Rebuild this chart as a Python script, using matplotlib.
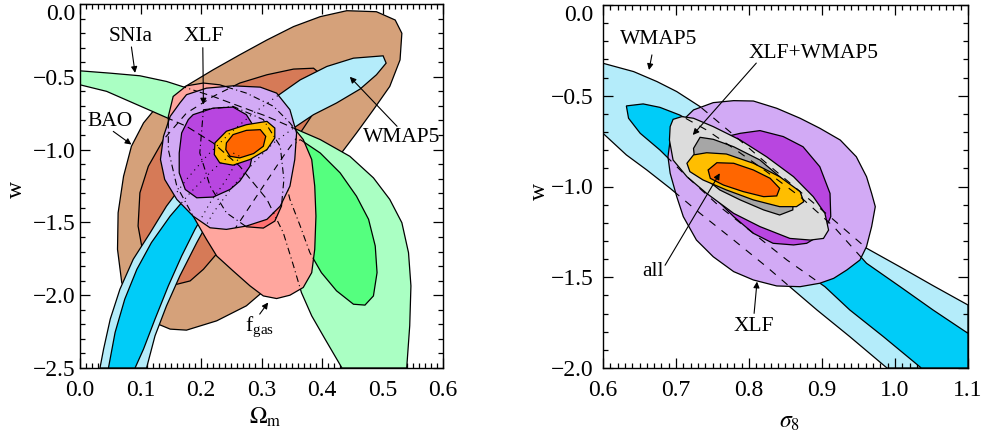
import numpy as np
import matplotlib
matplotlib.use("Agg")
import matplotlib.pyplot as plt
from matplotlib.patches import Polygon
from matplotlib.ticker import MultipleLocator, FuncFormatter

plt.rcParams['font.family'] = ['Liberation Serif', 'DejaVu Serif']
plt.rcParams['mathtext.fontset'] = 'stix'

# ---------------- Left panel (Omega_m, w) contour outlines ----------------
bao_out_om = [0.176,0.220,0.264,0.309,0.353,0.397,0.441,0.490,0.521,0.532,0.529,0.512,0.485,0.457,0.424,0.397,0.375,0.353,0.320,0.275,0.226,0.176,0.149,0.116,0.088,0.069,0.062,0.063,0.072,0.085,0.105,0.132]
bao_out_w = [-0.562,-0.452,-0.349,-0.247,-0.155,-0.087,-0.046,-0.053,-0.110,-0.201,-0.384,-0.566,-0.726,-0.886,-1.068,-1.251,-1.457,-1.685,-1.913,-2.073,-2.176,-2.240,-2.233,-2.176,-2.073,-1.913,-1.685,-1.434,-1.183,-0.977,-0.817,-0.680]

bao_in_om = [0.160,0.127,0.105,0.096,0.099,0.113,0.138,0.176,0.220,0.264,0.309,0.353,0.386,0.399,0.397,0.386,0.364,0.336,0.303,0.270,0.237,0.204,0.182]
bao_in_w = [-1.925,-1.868,-1.731,-1.525,-1.297,-1.114,-0.931,-0.749,-0.635,-0.543,-0.486,-0.447,-0.441,-0.486,-0.612,-0.749,-0.886,-1.046,-1.251,-1.457,-1.662,-1.822,-1.902]

wmap_out_om = [0.033,0.039,0.050,0.066,0.088,0.116,0.143,0.176,0.209,0.248,0.287,0.325,0.364,0.408,0.452,0.501,0.506,0.490,0.463,0.424,0.386,0.353,0.320,0.287,0.253,0.220,0.193,0.165,0.143,0.124,0.110]
wmap_out_w = [-2.5,-2.370,-2.164,-1.959,-1.753,-1.571,-1.388,-1.205,-1.046,-0.886,-0.749,-0.635,-0.521,-0.429,-0.372,-0.356,-0.406,-0.486,-0.584,-0.680,-0.760,-0.852,-0.954,-1.091,-1.251,-1.434,-1.639,-1.868,-2.073,-2.279,-2.5]

wmap_in_om = [0.047,0.058,0.074,0.094,0.118,0.149,0.182,0.220,0.253,0.264,0.242,0.215,0.190,0.168,0.146,0.124,0.105,0.091]
wmap_in_w = [-2.5,-2.256,-2.027,-1.822,-1.639,-1.457,-1.297,-1.137,-1.023,-1.046,-1.205,-1.365,-1.548,-1.731,-1.936,-2.164,-2.370,-2.5]

sn_out_om = [0.0,0.050,0.099,0.143,0.182,0.220,0.264,0.309,0.353,0.397,0.446,0.485,0.512,0.532,0.543,0.547,0.545,0.540,0.433,0.405,0.383,0.366,0.353,0.336,0.309,0.264,0.220,0.176,0.132,0.088,0.044,0.0]
sn_out_w = [-0.459,-0.475,-0.493,-0.532,-0.584,-0.635,-0.703,-0.772,-0.852,-0.931,-1.046,-1.194,-1.342,-1.502,-1.708,-1.936,-2.210,-2.5,-2.5,-2.301,-2.142,-1.982,-1.799,-1.571,-1.342,-1.114,-0.954,-0.840,-0.760,-0.680,-0.600,-0.555]

sn_in_om = [0.364,0.397,0.430,0.457,0.477,0.488,0.491,0.485,0.471,0.452,0.424,0.399,0.380,0.364,0.347,0.336,0.342]
sn_in_w = [-0.931,-1.023,-1.160,-1.320,-1.479,-1.662,-1.845,-2.005,-2.068,-2.062,-1.970,-1.845,-1.708,-1.525,-1.342,-1.160,-1.000]

fgas_out_om = [0.154,0.176,0.204,0.231,0.275,0.320,0.347,0.369,0.383,0.388,0.390,0.388,0.383,0.369,0.347,0.325,0.303,0.281,0.253,0.226,0.209,0.187,0.160,0.146,0.146]
fgas_out_w = [-0.635,-0.562,-0.543,-0.555,-0.612,-0.703,-0.817,-0.931,-1.068,-1.251,-1.457,-1.685,-1.845,-1.947,-2.000,-2.023,-2.005,-1.936,-1.833,-1.731,-1.616,-1.457,-1.251,-1.000,-0.772]

fgas_in_om = [0.204,0.253,0.303,0.331,0.337,0.333,0.322,0.303,0.275,0.242,0.215,0.198]
fgas_in_w = [-0.726,-0.703,-0.794,-0.977,-1.205,-1.388,-1.491,-1.539,-1.530,-1.434,-1.251,-1.023]

xlf_out_om = [0.176,0.209,0.253,0.298,0.325,0.347,0.358,0.355,0.347,0.331,0.309,0.275,0.242,0.215,0.187,0.160,0.140,0.133,0.138,0.149,0.165]
xlf_out_w = [-0.623,-0.578,-0.562,-0.571,-0.612,-0.726,-0.886,-1.068,-1.251,-1.388,-1.479,-1.525,-1.548,-1.537,-1.457,-1.342,-1.205,-1.068,-0.909,-0.772,-0.680]

xlf_in_om = [0.187,0.220,0.253,0.275,0.287,0.287,0.281,0.264,0.248,0.220,0.193,0.174,0.164,0.164,0.168,0.179]
xlf_in_w = [-0.760,-0.715,-0.708,-0.760,-0.840,-1.000,-1.114,-1.217,-1.274,-1.326,-1.331,-1.274,-1.160,-1.023,-0.886,-0.794]

all2_om = [0.223,0.242,0.275,0.309,0.322,0.322,0.309,0.281,0.253,0.231,0.222]
all2_w = [-0.954,-0.874,-0.829,-0.806,-0.852,-0.920,-1.000,-1.068,-1.107,-1.091,-1.034]

all1_om = [0.242,0.253,0.275,0.298,0.307,0.303,0.287,0.264,0.248,0.241]
all1_w = [-0.954,-0.897,-0.868,-0.863,-0.909,-0.977,-1.027,-1.057,-1.046,-1.000]

# ---------------- Right panel (sigma_8, w) contour outlines ----------------
wm_out_s8 = [0.600,0.642,0.674,0.701,0.733,0.779,0.824,0.870,0.916,0.961,1.007,1.052,1.100,1.100,0.989,0.938,0.893,0.861,0.824,0.779,0.733,0.692,0.660,0.632,0.600]
wm_out_w = [-0.321,-0.367,-0.422,-0.477,-0.560,-0.716,-0.872,-1.028,-1.184,-1.340,-1.443,-1.546,-1.653,-2.0,-2.0,-1.827,-1.680,-1.570,-1.442,-1.295,-1.148,-1.010,-0.909,-0.826,-0.707]

wm_in_s8 = [0.632,0.655,0.678,0.705,0.742,0.779,0.824,0.870,0.916,0.961,1.007,1.052,1.100,1.100,1.036,0.984,0.938,0.904,0.852,0.806,0.760,0.715,0.678,0.651,0.635]
wm_in_w = [-0.556,-0.545,-0.564,-0.606,-0.689,-0.790,-0.918,-1.056,-1.221,-1.423,-1.552,-1.680,-1.809,-2.0,-2.0,-1.827,-1.680,-1.552,-1.405,-1.258,-1.111,-0.946,-0.799,-0.707,-0.624]

xl_out_s8 = [0.724,0.751,0.779,0.806,0.838,0.870,0.897,0.925,0.947,0.961,0.968,0.973,0.968,0.961,0.952,0.934,0.916,0.897,0.870,0.838,0.806,0.779,0.751,0.728,0.710,0.701,0.692,0.689,0.692,0.705]
xl_out_w = [-0.578,-0.538,-0.527,-0.529,-0.569,-0.624,-0.679,-0.744,-0.836,-0.946,-1.038,-1.111,-1.221,-1.331,-1.405,-1.460,-1.506,-1.533,-1.552,-1.548,-1.515,-1.469,-1.387,-1.295,-1.166,-1.056,-0.927,-0.836,-0.744,-0.652]

xl_in_s8 = [0.769,0.788,0.815,0.847,0.874,0.897,0.911,0.912,0.902,0.879,0.861,0.833,0.806,0.779,0.756,0.742,0.751]
xl_in_w = [-0.725,-0.707,-0.692,-0.725,-0.781,-0.891,-1.038,-1.166,-1.258,-1.313,-1.322,-1.313,-1.258,-1.166,-1.074,-0.982,-0.836]

xw_out_s8 = [0.692,0.696,0.708,0.724,0.751,0.788,0.824,0.861,0.888,0.904,0.909,0.902,0.884,0.856,0.815,0.779,0.742,0.715,0.696,0.691]
xw_out_w = [-0.670,-0.630,-0.615,-0.624,-0.670,-0.744,-0.836,-0.946,-1.056,-1.148,-1.240,-1.286,-1.295,-1.286,-1.221,-1.148,-1.038,-0.946,-0.854,-0.744]

xw_in_s8 = [0.724,0.733,0.751,0.779,0.815,0.842,0.861,0.860,0.842,0.820,0.788,0.760,0.737,0.726]
xw_in_w = [-0.790,-0.729,-0.740,-0.781,-0.854,-0.946,-1.038,-1.129,-1.157,-1.129,-1.074,-1.019,-0.946,-0.872]

al2_s8 = [0.715,0.724,0.742,0.769,0.806,0.842,0.870,0.875,0.865,0.842,0.806,0.769,0.737,0.719]
al2_w = [-0.872,-0.826,-0.814,-0.821,-0.872,-0.946,-1.028,-1.084,-1.111,-1.111,-1.074,-1.019,-0.964,-0.918]

al1_s8 = [0.744,0.756,0.779,0.806,0.829,0.842,0.838,0.820,0.792,0.765,0.747]
al1_w = [-0.909,-0.869,-0.872,-0.909,-0.955,-1.010,-1.052,-1.056,-1.028,-0.992,-0.955]

# ---------------- colours ----------------
C_BAO2, C_BAO1 = '#D5A17A', '#D67A57'
C_WM2, C_WM1 = '#B4ECFA', '#00CCF8'
C_SN2, C_SN1 = '#AAFFC3', '#55FF7F'
C_FG2, C_FG1 = '#FFA69E', '#FF7272'
C_XL2, C_XL1 = '#D2AAF5', '#B846E0'
C_AL2, C_AL1 = '#FFBE00', '#FF6600'
C_XW2, C_XW1 = '#DCDCDC', '#A6A6A6'

fig = plt.figure(figsize=(9.84, 4.34), dpi=100)
ax1 = fig.add_axes([80/984, 66/434, 363/984, 364/434])
ax2 = fig.add_axes([603/984, 66/434, 365/984, 363/434])

def fill(ax, xs, ys, color, z):
    p = Polygon(np.column_stack([xs, ys]), closed=True, facecolor=color,
                edgecolor='black', lw=0.9, zorder=z)
    ax.add_patch(p)
    return p

def overlay(ax, xs, ys, clip, ls, z=20):
    x = np.append(xs, xs[0]); y = np.append(ys, ys[0])
    ln, = ax.plot(x, y, color='black', lw=0.8, ls=ls, zorder=z)
    ln.set_clip_path(clip)

# ----- left panel -----
fill(ax1, bao_out_om, bao_out_w, C_BAO2, 1)
fill(ax1, bao_in_om, bao_in_w, C_BAO1, 2)
fill(ax1, wmap_out_om, wmap_out_w, C_WM2, 3)
fill(ax1, wmap_in_om, wmap_in_w, C_WM1, 4)
fill(ax1, sn_out_om, sn_out_w, C_SN2, 5)
fill(ax1, sn_in_om, sn_in_w, C_SN1, 6)
pf = fill(ax1, fgas_out_om, fgas_out_w, C_FG2, 7)
fill(ax1, fgas_in_om, fgas_in_w, C_FG1, 8)
overlay(ax1, sn_out_om, sn_out_w, pf, (0, (6, 3, 1, 3)), z=8.5)
overlay(ax1, sn_in_om, sn_in_w, pf, (0, (6, 3, 1, 3)), z=8.5)
px = fill(ax1, xlf_out_om, xlf_out_w, C_XL2, 9)
fill(ax1, xlf_in_om, xlf_in_w, C_XL1, 10)
fill(ax1, all2_om, all2_w, C_AL2, 11)
fill(ax1, all1_om, all1_w, C_AL1, 12)
overlay(ax1, bao_out_om, bao_out_w, px, (0, (6, 5)))
overlay(ax1, bao_in_om, bao_in_w, px, (0, (6, 5)))
overlay(ax1, wmap_out_om, wmap_out_w, px, (0, (1, 4)))
overlay(ax1, wmap_in_om, wmap_in_w, px, (0, (1, 4)))
overlay(ax1, sn_out_om, sn_out_w, px, (0, (7, 4)))
overlay(ax1, fgas_out_om, fgas_out_w, px, (0, (6, 3, 1, 3)))
overlay(ax1, fgas_in_om, fgas_in_w, px, (0, (6, 3, 1, 3)))

# ----- right panel -----
fill(ax2, wm_out_s8, wm_out_w, C_WM2, 1)
fill(ax2, wm_in_s8, wm_in_w, C_WM1, 2)
px2 = fill(ax2, xl_out_s8, xl_out_w, C_XL2, 3)
fill(ax2, xl_in_s8, xl_in_w, C_XL1, 4)
fill(ax2, xw_out_s8, xw_out_w, C_XW2, 5)
fill(ax2, xw_in_s8, xw_in_w, C_XW1, 6)
fill(ax2, al2_s8, al2_w, C_AL2, 7)
fill(ax2, al1_s8, al1_w, C_AL1, 8)
overlay(ax2, wm_out_s8, wm_out_w, px2, (0, (7, 7)))
overlay(ax2, wm_in_s8, wm_in_w, px2, (0, (7, 7)))

def fmt(v, p):
    if abs(v) < 1e-9:
        v = 0.0
    return f'{v:.1f}'.replace('-', '\u2212')

for ax, xl, yl in [(ax1, (0.0, 0.6), (-2.5, 0.0)), (ax2, (0.6, 1.1), (-2.0, 0.0))]:
    ax.set_xlim(*xl)
    ax.set_ylim(*yl)
    ax.xaxis.set_major_locator(MultipleLocator(0.1))
    ax.xaxis.set_minor_locator(MultipleLocator(0.01))
    ax.yaxis.set_major_locator(MultipleLocator(0.5))
    ax.yaxis.set_minor_locator(MultipleLocator(0.1))
    ax.xaxis.set_major_formatter(FuncFormatter(fmt))
    ax.yaxis.set_major_formatter(FuncFormatter(fmt))
    ax.tick_params(which='both', direction='in', top=True, right=True, width=0.9, labelsize=17)
    ax.tick_params(which='major', length=7.5)
    ax.tick_params(which='minor', length=3.5)
    ax.tick_params(axis='x', pad=9)
    for s in ax.spines.values():
        s.set_linewidth(1.0)
        s.set_zorder(30)

ax1.tick_params(axis='y', pad=3)
ax2.tick_params(axis='y', pad=7)

ax1.set_ylabel('w', fontsize=17, rotation=90, va='center')
ax1.yaxis.set_label_coords(-0.174, 0.49)
ax2.set_ylabel('w', fontsize=17, rotation=90, va='center')
ax2.yaxis.set_label_coords(-0.175, 0.485)
ax1.set_xlabel(r'$\Omega_{\rm m}$', fontsize=17, va='center')
ax1.xaxis.set_label_coords(0.51, -0.135)
ax2.set_xlabel(r'$\sigma_8$', fontsize=17, va='center')
ax2.xaxis.set_label_coords(0.51, -0.15)

arrow = dict(arrowstyle='-|>', color='black', lw=0.8, shrinkA=0, shrinkB=0, mutation_scale=9)
tfs = 15.5

def label(ax, txt, pos, tail, tip):
    ax.text(pos[0], pos[1], txt, fontsize=tfs, ha='center', va='center', zorder=40)
    ax.annotate('', xy=tip, xytext=tail, arrowprops=arrow, zorder=40)

label(ax1, 'SNIa', (0.083, -0.22), (0.085, -0.295), (0.091, -0.473))
label(ax1, 'XLF', (0.204, -0.22), (0.203, -0.30), (0.204, -0.69))
label(ax1, 'BAO', (0.050, -0.805), (0.055, -0.875), (0.085, -0.965))
label(ax1, 'WMAP5', (0.532, -0.92), (0.524, -0.84), (0.446, -0.50))
label(ax1, r'f$_{\mathregular{gas}}$', (0.297, -2.22), (0.297, -2.13), (0.311, -2.05))

label(ax2, 'WMAP5', (0.676, -0.189), (0.667, -0.275), (0.663, -0.358))
label(ax2, 'XLF+WMAP5', (0.888, -0.266), (0.81, -0.32), (0.723, -0.716))
label(ax2, 'all', (0.669, -1.469), (0.685, -1.434), (0.76, -0.927))
label(ax2, 'XLF', (0.806, -1.772), (0.807, -1.699), (0.811, -1.524))

# keep the top "0.0" label inside the figure, as in the reference
fig.canvas.draw()
for ax in (ax1, ax2):
    for lab in ax.get_yticklabels():
        if lab.get_text() == '0.0':
            lab.set_va('top')

fig.savefig('out.png', dpi=100)
